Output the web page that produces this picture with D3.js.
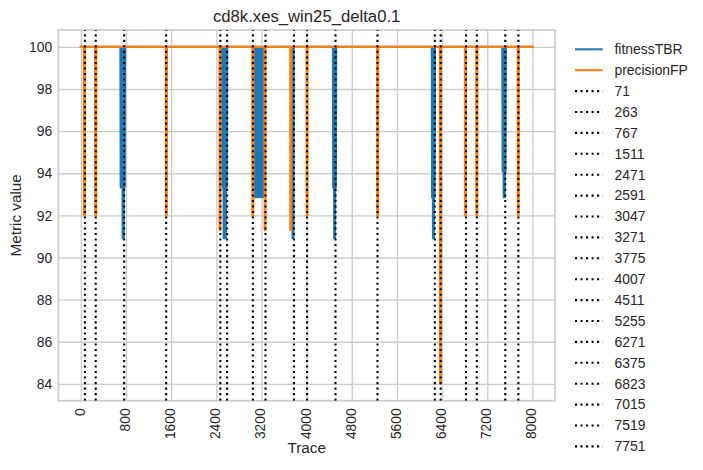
<!DOCTYPE html>
<html>
<head>
<meta charset="utf-8">
<script src="https://cdn.jsdelivr.net/npm/d3@7"></script>
<style>
  body { margin: 0; background: #fff; }
  text { font-family: "Liberation Sans", Arial, sans-serif; fill: #262626; }
</style>
</head>
<body>
<div id="chart"></div>
<script>
// tick values
var xTicks = [0, 800, 1600, 2400, 3200, 4000, 4800, 5600, 6400, 7200, 8000];
var yTicks = [84, 86, 88, 90, 92, 94, 96, 98, 100];

// detected drift points (dotted lines)
var driftPoints = [71, 263, 767, 1511, 2471, 2591, 3047, 3271, 3775, 4007, 4511, 5255, 6271, 6375, 6823, 7015, 7519, 7751];

// [trace, value]
var fitnessTBR = [
  [0, 100],
  [700, 100], [705, 93.33], [715, 100], [725, 93.33], [733, 100], [740, 90.91], [750, 100], [760, 90.91], [770, 100], [777, 93.33], [782, 100],
  [2502, 100], [2508, 93.33], [2518, 100], [2530, 90.91], [2540, 100], [2552, 90.91], [2562, 100], [2570, 90.91], [2578, 100], [2586, 93.33], [2594, 100],
  [3074, 100], [3080, 92.86], [3095, 100], [3110, 92.86], [3125, 100], [3140, 92.86], [3155, 100], [3170, 92.86], [3185, 100], [3200, 92.86], [3215, 100], [3230, 92.86], [3240, 100],
  [3745, 100], [3750, 90.91], [3768, 90.91], [3773, 100],
  [4465, 100], [4470, 93.33], [4480, 100], [4488, 90.91], [4496, 100], [4504, 90.91], [4512, 100], [4518, 93.33], [4524, 100],
  [6217, 100], [6222, 92.86], [6230, 100], [6238, 90.91], [6246, 100], [6254, 90.91], [6262, 100], [6268, 92.86], [6274, 100],
  [7466, 100], [7472, 94.1], [7480, 100], [7490, 92.86], [7500, 100], [7510, 92.86], [7518, 100], [7524, 94.1], [7530, 100],
  [8000, 100]
];

var precisionFP = [
  [0, 100],
  [52, 100], [54, 92], [72, 92], [74, 100],
  [252, 100], [254, 92], [272, 92], [274, 100],
  [1505, 100], [1507, 92], [1523, 92], [1525, 100],
  [2454, 100], [2456, 91.3], [2472, 91.3], [2474, 100],
  [3037, 100], [3039, 92], [3055, 92], [3057, 100],
  [3253, 100], [3255, 91.3], [3271, 91.3], [3273, 100],
  [3709, 100], [3711, 91.3], [3727, 91.3], [3729, 100],
  [3998, 100], [4000, 92], [4016, 92], [4018, 100],
  [5248, 100], [5250, 92], [5266, 92], [5268, 100],
  [6360, 100], [6362, 84], [6378, 84], [6380, 100],
  [6803, 100], [6805, 92], [6821, 92], [6823, 100],
  [7006, 100], [7008, 92], [7024, 92], [7026, 100],
  [7740, 100], [7742, 92], [7758, 92], [7760, 100],
  [8000, 100]
];

var seriesNames = ["fitnessTBR", "precisionFP"];
var seriesColors = ["#1f77b4", "#ff7f0e"];

// SVG margin convention
var margin = {top: 30, right: 148, bottom: 69.3, left: 58.3},
    width = 703 - margin.left - margin.right,
    height = 470 - margin.top - margin.bottom;

var svg = d3.select("#chart").append("svg")
    .attr("width", 703)
    .attr("height", 470)
    .style("display", "block");

svg.append("rect").attr("width", 703).attr("height", 470).attr("fill", "#fff");

var g = svg.append("g")
    .attr("transform", "translate(" + margin.left + "," + margin.top + ")");

// matplotlib style 5% padding around the data
var allPts = fitnessTBR.concat(precisionFP);
var xExt = d3.extent(allPts, function(d) { return d[0]; }),
    yExt = d3.extent(allPts, function(d) { return d[1]; });
var xPad = (xExt[1] - xExt[0]) * 0.05,
    yPad = (yExt[1] - yExt[0]) * 0.05;

var x = d3.scaleLinear().domain([xExt[0] - xPad, xExt[1] + xPad]).range([0, width]);
var y = d3.scaleLinear().domain([yExt[0] - yPad, yExt[1] + yPad]).range([height, 0]);

// grid + tick labels
var xAxis = g.append("g")
    .attr("transform", "translate(0," + height + ")")
    .call(d3.axisBottom(x).tickValues(xTicks).tickSize(-height).tickFormat(d3.format("d")));
xAxis.select(".domain").remove();
xAxis.selectAll("line").attr("stroke", "#cccccc").attr("stroke-width", 1.3);
xAxis.selectAll("text")
    .attr("y", null).attr("dy", null)
    .attr("transform", "translate(-1.5,7.5) rotate(-90)")
    .attr("text-anchor", "end")
    .attr("dominant-baseline", "central")
    .style("font-size", "13.9px");

var yAxis = g.append("g")
    .call(d3.axisLeft(y).tickValues(yTicks).tickSize(-width).tickPadding(6));
yAxis.select(".domain").remove();
yAxis.selectAll("line").attr("stroke", "#cccccc").attr("stroke-width", 1.3);
yAxis.selectAll("text").style("font-size", "13.9px").attr("dy", "0.34em");

// frame
g.append("rect")
    .attr("width", width).attr("height", height)
    .attr("fill", "none").attr("stroke", "#cccccc").attr("stroke-width", 1.7);

g.append("clipPath").attr("id", "clip")
  .append("rect").attr("width", width).attr("height", height);

var line = d3.line()
    .x(function(d) { return x(d[0]); })
    .y(function(d) { return y(d[1]); });

var plot = g.append("g").attr("clip-path", "url(#clip)");

[fitnessTBR, precisionFP].forEach(function(s, i) {
  plot.append("path")
      .datum(s)
      .attr("d", line)
      .attr("fill", "none")
      .attr("stroke", seriesColors[i])
      .attr("stroke-width", 2.08)
      .attr("stroke-linejoin", "round")
      .attr("stroke-linecap", "square");
});

plot.selectAll(".drift")
    .data(driftPoints)
  .enter().append("line")
    .attr("class", "drift")
    .attr("x1", function(d) { return x(d); })
    .attr("x2", function(d) { return x(d); })
    .attr("y1", height)
    .attr("y2", 0)
    .attr("stroke", "#000")
    .attr("stroke-width", 2.08)
    .attr("stroke-dasharray", "2.08,3.44");

// titles
svg.append("text")
    .attr("x", margin.left + width / 2)
    .attr("y", 21.5)
    .attr("text-anchor", "middle")
    .style("font-size", "16.7px")
    .text("cd8k.xes_win25_delta0.1");

svg.append("text")
    .attr("x", margin.left + width / 2)
    .attr("y", 452.5)
    .attr("text-anchor", "middle")
    .style("font-size", "15.3px")
    .text("Trace");

svg.append("text")
    .attr("transform", "translate(20.5," + (margin.top + height / 2) + ") rotate(-90)")
    .attr("text-anchor", "middle")
    .style("font-size", "15.3px")
    .text("Metric value");

// legend, no frame
var legendItems = seriesNames.map(function(n, i) { return {label: n, color: seriesColors[i], dotted: false}; })
    .concat(driftPoints.map(function(d) { return {label: String(d), color: "#000", dotted: true}; }));

var legend = svg.append("g").attr("transform", "translate(575,49.3)");
var item = legend.selectAll(".item")
    .data(legendItems)
  .enter().append("g")
    .attr("class", "item")
    .attr("transform", function(d, i) { return "translate(0," + (i * 20.9) + ")"; });

item.append("line")
    .attr("x1", 0).attr("x2", 27.8)
    .attr("stroke", function(d) { return d.color; })
    .attr("stroke-width", 2.08)
    .attr("stroke-dasharray", function(d) { return d.dotted ? "2.08,3.44" : null; });

item.append("text")
    .attr("x", 39.5)
    .attr("dy", "0.35em")
    .style("font-size", "13.9px")
    .text(function(d) { return d.label; });
</script>
</body>
</html>
